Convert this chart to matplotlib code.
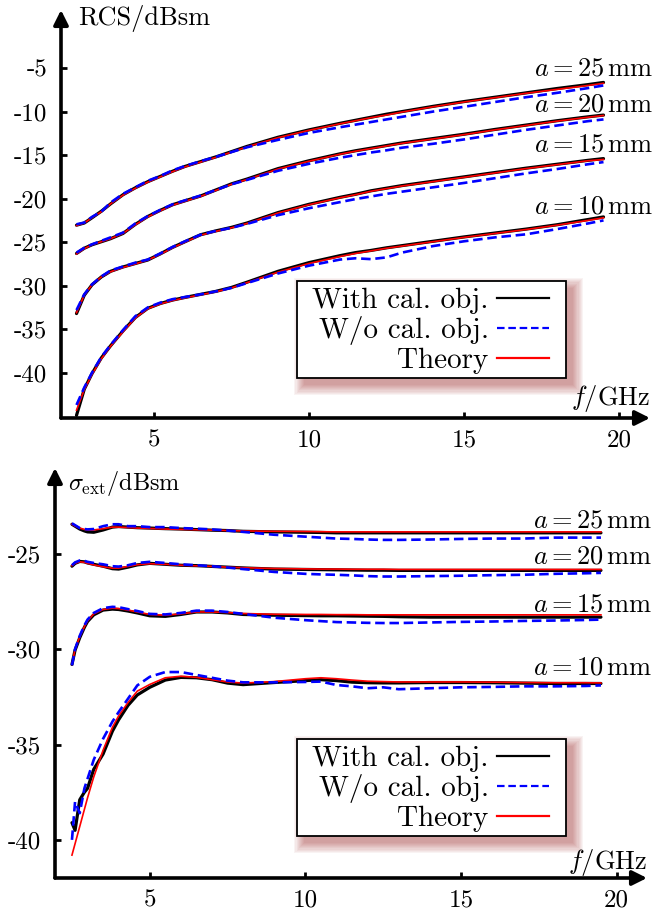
import matplotlib
matplotlib.use('Agg')
import matplotlib.pyplot as plt
import numpy as np
from matplotlib.patches import Rectangle
from matplotlib.transforms import IdentityTransform
from matplotlib.lines import Line2D

plt.rcParams['font.family'] = 'cmr10'
plt.rcParams['mathtext.fontset'] = 'cm'
plt.rcParams['axes.unicode_minus'] = False

# ---------------- data: RCS (top) ----------------
f_rcs = [2.5, 2.75, 3.0, 3.3, 3.6, 4.0, 4.4, 4.8, 5.2, 5.6, 6.0, 6.5, 7.0, 7.5, 8.0,
         9.0, 10.0, 11.0, 11.5, 12.0, 12.5, 13.0, 14.0, 15.0, 16.0, 17.0, 18.0, 19.0, 19.5]

rcs25_cal = [-23.05, -22.8, -22.2, -21.45, -20.6, -19.55, -18.75, -18.05, -17.45, -16.85, -16.3, -15.75, -15.2, -14.6, -14.0,
             -12.95, -12.1, -11.35, -11.0, -10.65, -10.3, -10.0, -9.4, -8.85, -8.35, -7.85, -7.35, -6.9, -6.65]
rcs25_wo = [-22.95, -22.75, -22.1, -21.5, -20.45, -19.45, -18.7, -17.95, -17.4, -16.75, -16.25, -15.7, -15.2, -14.65, -14.1,
            -13.25, -12.45, -11.8, -11.5, -11.2, -10.9, -10.6, -10.0, -9.45, -8.9, -8.35, -7.85, -7.3, -7.0]
rcs25_th = [-23.1, -22.8, -22.2, -21.5, -20.6, -19.6, -18.8, -18.1, -17.5, -16.9, -16.35, -15.8, -15.25, -14.65, -14.05,
            -13.0, -12.15, -11.4, -11.05, -10.7, -10.4, -10.05, -9.45, -8.9, -8.4, -7.9, -7.45, -7.0, -6.75]

rcs20_cal = [-26.3, -25.7, -25.3, -24.95, -24.6, -24.0, -22.95, -22.05, -21.35, -20.7, -20.25, -19.7, -19.0, -18.3, -17.75,
             -16.55, -15.65, -14.85, -14.5, -14.2, -13.9, -13.6, -13.1, -12.6, -12.05, -11.55, -11.05, -10.6, -10.4]
rcs20_wo = [-26.2, -25.65, -25.25, -24.85, -24.45, -23.9, -22.85, -22.0, -21.3, -20.65, -20.2, -19.65, -19.0, -18.35, -17.85,
            -16.8, -16.0, -15.3, -15.0, -14.7, -14.45, -14.15, -13.7, -13.2, -12.65, -12.1, -11.6, -11.1, -10.9]
rcs20_th = [-26.35, -25.75, -25.3, -24.95, -24.6, -24.0, -23.0, -22.1, -21.4, -20.75, -20.3, -19.75, -19.05, -18.35, -17.8,
            -16.6, -15.7, -14.9, -14.55, -14.25, -13.95, -13.65, -13.15, -12.65, -12.1, -11.6, -11.1, -10.65, -10.45]

rcs15_cal = [-33.2, -31.1, -29.9, -29.0, -28.35, -27.85, -27.45, -27.05, -26.35, -25.6, -24.95, -24.15, -23.7, -23.3, -22.8,
             -21.6, -20.65, -19.85, -19.5, -19.1, -18.8, -18.5, -18.0, -17.5, -17.0, -16.5, -16.05, -15.6, -15.4]
rcs15_wo = [-32.8, -31.0, -29.85, -28.95, -28.25, -27.8, -27.35, -27.0, -26.3, -25.55, -24.9, -24.15, -23.7, -23.35, -22.9,
            -21.9, -21.1, -20.4, -20.05, -19.75, -19.45, -19.2, -18.7, -18.2, -17.65, -17.1, -16.6, -16.05, -15.8]
rcs15_th = [-33.1, -31.1, -29.9, -29.0, -28.4, -27.9, -27.5, -27.05, -26.4, -25.65, -25.0, -24.2, -23.75, -23.35, -22.85,
            -21.65, -20.7, -19.9, -19.55, -19.15, -18.85, -18.55, -18.05, -17.55, -17.05, -16.55, -16.1, -15.65, -15.5]

rcs10_cal = [-44.9, -41.9, -40.1, -38.3, -36.9, -35.2, -33.65, -32.6, -32.05, -31.65, -31.35, -31.0, -30.65, -30.2, -29.6,
             -28.35, -27.35, -26.55, -26.2, -25.95, -25.65, -25.4, -24.9, -24.4, -23.95, -23.5, -23.0, -22.4, -22.1]
rcs10_wo = [-43.7, -41.7, -40.0, -38.2, -36.8, -35.1, -33.5, -32.5, -31.95, -31.55, -31.3, -31.0, -30.65, -30.25, -29.7,
            -28.6, -27.7, -27.0, -26.85, -26.95, -26.75, -26.2, -25.45, -24.9, -24.45, -24.1, -23.5, -22.85, -22.5]
rcs10_th = [-44.3, -41.95, -40.2, -38.4, -36.95, -35.3, -33.7, -32.65, -32.1, -31.7, -31.4, -31.05, -30.7, -30.25, -29.65,
            -28.45, -27.45, -26.65, -26.3, -26.0, -25.7, -25.45, -24.95, -24.45, -24.0, -23.55, -23.05, -22.5, -22.2]

# ---------------- data: extinction (bottom) ----------------
f_ext = [2.5, 2.6, 2.75, 2.9, 3.0, 3.2, 3.5, 3.8, 4.0, 4.3, 4.6, 5.0, 5.5, 6.0, 6.5, 7.0, 7.5, 8.0,
         9.0, 10.0, 10.5, 11.0, 11.5, 12.0, 12.5, 13.0, 14.0, 15.0, 16.0, 17.0, 18.0, 19.0, 19.5]

ext25_cal = [-23.45, -23.55, -23.7, -23.8, -23.85, -23.87, -23.75, -23.6, -23.57, -23.6, -23.63, -23.65, -23.68, -23.7, -23.73, -23.76, -23.78, -23.82,
             -23.85, -23.87, -23.88, -23.9, -23.9, -23.9, -23.9, -23.9, -23.9, -23.9, -23.9, -23.9, -23.9, -23.9, -23.9]
ext25_wo = [-23.4, -23.5, -23.65, -23.7, -23.72, -23.7, -23.55, -23.45, -23.45, -23.55, -23.55, -23.6, -23.6, -23.65, -23.68, -23.72, -23.78, -23.85,
            -24.0, -24.1, -24.15, -24.2, -24.22, -24.25, -24.27, -24.27, -24.25, -24.22, -24.2, -24.2, -24.15, -24.15, -24.15]
ext25_th = [-23.45, -23.55, -23.65, -23.72, -23.75, -23.75, -23.68, -23.6, -23.6, -23.62, -23.65, -23.67, -23.7, -23.72, -23.74, -23.76, -23.78, -23.8,
            -23.82, -23.83, -23.84, -23.85, -23.85, -23.85, -23.85, -23.85, -23.85, -23.85, -23.85, -23.85, -23.85, -23.85, -23.85]

ext20_cal = [-25.65, -25.5, -25.4, -25.42, -25.48, -25.55, -25.65, -25.78, -25.8, -25.7, -25.58, -25.5, -25.55, -25.6, -25.62, -25.66, -25.7, -25.74,
             -25.8, -25.82, -25.83, -25.84, -25.85, -25.86, -25.86, -25.87, -25.87, -25.87, -25.87, -25.87, -25.87, -25.87, -25.87]
ext20_wo = [-25.6, -25.45, -25.35, -25.37, -25.42, -25.48, -25.55, -25.65, -25.67, -25.6, -25.48, -25.42, -25.48, -25.55, -25.6, -25.65, -25.72, -25.8,
            -25.95, -26.05, -26.08, -26.1, -26.13, -26.17, -26.19, -26.19, -26.17, -26.15, -26.12, -26.1, -26.05, -26.02, -26.0]
ext20_th = [-25.62, -25.5, -25.42, -25.45, -25.5, -25.58, -25.68, -25.75, -25.75, -25.66, -25.57, -25.52, -25.55, -25.6, -25.63, -25.66, -25.7, -25.73,
            -25.77, -25.79, -25.8, -25.8, -25.81, -25.81, -25.81, -25.82, -25.82, -25.82, -25.82, -25.82, -25.82, -25.82, -25.82]

ext15_cal = [-30.8, -30.05, -29.4, -28.85, -28.55, -28.2, -27.95, -27.9, -27.92, -28.0, -28.1, -28.25, -28.28, -28.18, -28.05, -28.05, -28.1, -28.18,
             -28.22, -28.24, -28.25, -28.25, -28.26, -28.27, -28.28, -28.3, -28.32, -28.32, -28.32, -28.32, -28.32, -28.32, -28.32]
ext15_wo = [-30.85, -30.0, -29.3, -28.75, -28.45, -28.1, -27.85, -27.78, -27.8, -27.9, -28.0, -28.15, -28.18, -28.1, -27.98, -27.98, -28.05, -28.15,
            -28.35, -28.48, -28.53, -28.58, -28.6, -28.62, -28.63, -28.63, -28.6, -28.57, -28.55, -28.52, -28.5, -28.47, -28.45]
ext15_th = [-30.8, -30.0, -29.35, -28.82, -28.52, -28.15, -27.92, -27.85, -27.87, -27.95, -28.05, -28.18, -28.22, -28.15, -28.05, -28.05, -28.08, -28.13,
            -28.17, -28.18, -28.18, -28.19, -28.19, -28.2, -28.2, -28.2, -28.2, -28.2, -28.2, -28.2, -28.2, -28.2, -28.2]

ext10_cal = [-39.1, -39.5, -37.9, -37.5, -37.3, -36.3, -35.5, -34.3, -33.7, -32.95, -32.4, -32.0, -31.62, -31.48, -31.5, -31.6, -31.78, -31.86,
             -31.75, -31.65, -31.6, -31.65, -31.73, -31.76, -31.77, -31.77, -31.75, -31.75, -31.76, -31.78, -31.8, -31.8, -31.8]
ext10_wo = [-40.0, -38.0, -38.6, -37.3, -36.8, -35.8, -34.7, -33.8, -33.3, -32.6, -31.9, -31.45, -31.2, -31.2, -31.35, -31.5, -31.65, -31.74,
            -31.74, -31.72, -31.7, -31.88, -31.95, -32.05, -32.0, -32.1, -32.05, -32.0, -31.98, -31.95, -31.95, -31.93, -31.9]
ext10_th = [-40.8, -40.2, -39.3, -38.4, -37.8, -36.7, -35.3, -34.1, -33.5, -32.8, -32.2, -31.85, -31.5, -31.42, -31.48, -31.6, -31.72, -31.78,
            -31.7, -31.55, -31.5, -31.55, -31.62, -31.68, -31.7, -31.72, -31.72, -31.72, -31.73, -31.75, -31.76, -31.76, -31.77]

sizes = ['25', '20', '15', '10']
rcs_label_y = [-5.9, -10.0, -14.6, -21.7]
ext_label_y = [-23.6, -25.5, -28.0, -31.35]
legend_labels = ['With cal. obj.', 'W/o cal. obj.', 'Theory']

W, H = 656, 913
fig = plt.figure(figsize=(W / 100, H / 100), dpi=100)

ax1 = fig.add_axes([61 / W, 1 - 418 / H, (650 - 61) / W, (418 - 10) / H])
ax2 = fig.add_axes([55 / W, 1 - 878 / H, (647 - 55) / W, (878 - 468) / H])

DASH = (3.6, 1.8)


def style(ax, xlim, ylim, yticks):
    ax.set_xlim(*xlim)
    ax.set_ylim(*ylim)
    for s in ax.spines.values():
        s.set_visible(False)
    ax.set_xticks([5, 10, 15, 20])
    ax.set_xticklabels(['5', '10', '15', '20'])
    ax.set_yticks(yticks)
    ax.set_yticklabels(['%d' % t for t in yticks])
    ax.tick_params(direction='in', length=4, width=2.0, labelsize=18, pad=10)
    ax.tick_params(axis='x', pad=8)
    ap = dict(arrowstyle='-|>', lw=2.6, color='k', mutation_scale=22, shrinkA=0, shrinkB=0)
    ax.annotate('', xy=(1, 0), xytext=(0, 0), xycoords='axes fraction', arrowprops=ap)
    ax.annotate('', xy=(0, 1), xytext=(0, 0), xycoords='axes fraction', arrowprops=ap)


def draw(ax, f, groups):
    for cal, wo, th in groups:
        ax.plot(f, cal, color='black', lw=2.3, solid_capstyle='round', zorder=2)
        ax.plot(f, th, color='red', lw=1.2, zorder=3)
        ax.plot(f, wo, color='blue', lw=1.9, dashes=DASH, zorder=4)


def legend(ax, x_right, y_top):
    handles = [Line2D([], [], color='black', lw=1.6),
               Line2D([], [], color='blue', lw=1.6, dashes=(3.4, 1.7)),
               Line2D([], [], color='red', lw=1.6)]
    leg = ax.legend(handles, legend_labels, loc='upper right', markerfirst=False,
                    bbox_to_anchor=(x_right / W, 1 - y_top / H), bbox_transform=fig.transFigure,
                    fontsize=21, frameon=False, handlelength=1.8, handletextpad=0.27,
                    labelspacing=0.07, borderpad=0, borderaxespad=0)
    leg.set_zorder(7)
    return leg


style(ax1, (2.0, 21.0), (-45.2, 1.67), [-5, -10, -15, -20, -25, -30, -35, -40])
draw(ax1, f_rcs, [(rcs25_cal, rcs25_wo, rcs25_th), (rcs20_cal, rcs20_wo, rcs20_th),
                  (rcs15_cal, rcs15_wo, rcs15_th), (rcs10_cal, rcs10_wo, rcs10_th)])
for s, yv in zip(sizes, rcs_label_y):
    ax1.text(21.1, yv, r'$a = %s\,\mathrm{mm}$' % s, ha='right', va='baseline', fontsize=19, clip_on=False)
leg1 = legend(ax1, 549, 288)

style(ax2, (1.955, 20.98), (-42.0, -20.5), [-25, -30, -35, -40])
draw(ax2, f_ext, [(ext25_cal, ext25_wo, ext25_th), (ext20_cal, ext20_wo, ext20_th),
                  (ext15_cal, ext15_wo, ext15_th), (ext10_cal, ext10_wo, ext10_th)])
for s, yv in zip(sizes, ext_label_y):
    ax2.text(21.15, yv, r'$a = %s\,\mathrm{mm}$' % s, ha='right', va='baseline', fontsize=19, clip_on=False)
leg2 = legend(ax2, 549, 746)

# axis labels
fig.text(78 / W, 1 - 25 / H, 'RCS/dBsm', ha='left', va='baseline', fontsize=19)
fig.text(650 / W, 1 - 405 / H, r'$f/\mathrm{GHz}$', ha='right', va='baseline', fontsize=19)
fig.text(68 / W, 1 - 490 / H, r'$\sigma_{\mathrm{ext}}/\mathrm{dBsm}$', ha='left', va='baseline', fontsize=17.5)
fig.text(647 / W, 1 - 869 / H, r'$f/\mathrm{GHz}$', ha='right', va='baseline', fontsize=19)

# legend frame (wider horizontal padding) and blurred reddish shadow
fig.canvas.draw()
for ax, leg in [(ax1, leg1), (ax2, leg2)]:
    bb = leg.get_window_extent()
    x0, y0 = bb.x0 - 15, bb.y0 - 4
    w, h = bb.width + 15 + 17, bb.height + 4 + 7
    for k in range(10):
        g = k * 1.1
        ax.add_patch(Rectangle((x0 + 7 - g, y0 - 7 - g), w + 2 * g, h + 2 * g,
                               transform=IdentityTransform(), facecolor=(0.6, 0.12, 0.12),
                               edgecolor='none', alpha=0.05, zorder=5, clip_on=False))
    ax.add_patch(Rectangle((x0, y0), w, h, transform=IdentityTransform(), facecolor='white',
                           edgecolor='black', lw=1.3, zorder=6, clip_on=False))

fig.savefig('out.png', dpi=100)
